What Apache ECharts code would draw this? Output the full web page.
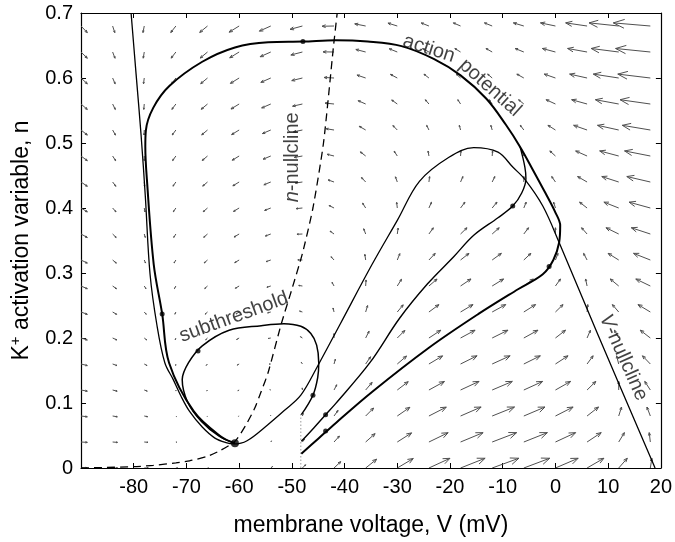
<!DOCTYPE html>
<html><head><meta charset="utf-8">
<script src="https://cdn.jsdelivr.net/npm/echarts@6/dist/echarts.min.js"></script>
<style>html,body{margin:0;padding:0;background:#fff}#c{width:675px;height:542px}</style>
</head><body><div id="c"></div>
<script>
// ---------- data ----------
const quiverV = [-90,-84,-78,-72,-66,-60,-54,-48,-42,-36,-30,-24,-18,-12,-6,0,6,12,18];
const quiverN = [0.68,0.64,0.60,0.56,0.52,0.48,0.44,0.40,0.36,0.32,0.28,0.24,0.20,0.16,0.12,0.08,0.04,0.00];
// arrow components in data units (mV), one row per quiverN
const quiverU = [
 [1.2,0.41,-0.24,-0.97,-1.48,-1.90,-2.16,-2.35,-2.27,-2.07,-1.77,-1.46,-1.37,-1.47,-1.98,-2.84,-4.06,-5.62,-7.02],
 [1.2,0.45,-0.19,-0.90,-1.38,-1.78,-2.02,-2.19,-2.08,-1.86,-1.53,-1.20,-1.08,-1.17,-1.65,-2.48,-3.69,-5.22,-6.59],
 [1.2,0.48,-0.14,-0.83,-1.29,-1.66,-1.88,-2.02,-1.89,-1.65,-1.30,-0.94,-0.80,-0.86,-1.32,-2.13,-3.31,-4.82,-6.17],
 [1.2,0.51,-0.09,-0.76,-1.19,-1.55,-1.73,-1.86,-1.70,-1.43,-1.06,-0.68,-0.52,-0.55,-0.99,-1.77,-2.93,-4.42,-5.74],
 [1.2,0.54,-0.05,-0.69,-1.10,-1.43,-1.59,-1.69,-1.51,-1.22,-0.83,-0.42,-0.23,-0.25,-0.66,-1.42,-2.55,-4.02,-5.32],
 [1.2,0.57,0.00,-0.62,-1.00,-1.31,-1.45,-1.53,-1.32,-1.01,-0.59,-0.16,0.07,0.08,-0.33,-1.06,-2.17,-3.61,-4.89],
 [1.2,0.61,0.06,-0.55,-0.91,-1.19,-1.31,-1.36,-1.13,-0.80,-0.35,0.13,0.45,0.50,0.00,-0.71,-1.80,-3.21,-4.46],
 [1.2,0.64,0.13,-0.48,-0.81,-1.07,-1.17,-1.20,-0.94,-0.58,-0.12,0.48,0.83,0.91,0.45,-0.35,-1.42,-2.81,-4.04],
 [1.2,0.67,0.19,-0.41,-0.72,-0.96,-1.03,-1.03,-0.76,-0.37,0.16,0.83,1.22,1.33,0.89,0.00,-1.04,-2.41,-3.61],
 [1.2,0.70,0.25,-0.34,-0.63,-0.84,-0.89,-0.87,-0.57,-0.16,0.48,1.19,1.60,1.74,1.34,0.48,-0.66,-2.01,-3.19],
 [1.2,0.73,0.32,-0.27,-0.53,-0.72,-0.74,-0.70,-0.38,0.07,0.80,1.54,1.98,2.16,1.79,0.96,-0.28,-1.61,-2.76],
 [1.2,0.76,0.38,-0.19,-0.44,-0.60,-0.60,-0.54,-0.19,0.36,1.12,1.89,2.36,2.57,2.23,1.44,0.13,-1.20,-2.34],
 [1.2,0.80,0.45,-0.12,-0.34,-0.48,-0.46,-0.37,0.00,0.65,1.43,2.24,2.75,2.99,2.68,1.91,0.64,-0.80,-1.91],
 [1.2,0.83,0.51,-0.05,-0.25,-0.37,-0.32,-0.21,0.25,0.93,1.75,2.59,3.13,3.40,3.13,2.39,1.15,-0.40,-1.49],
 [1.2,0.86,0.57,0.02,-0.15,-0.25,-0.18,-0.04,0.51,1.22,2.07,2.94,3.51,3.82,3.57,2.87,1.66,0.00,-1.06],
 [1.2,0.89,0.64,0.12,-0.06,-0.13,-0.04,0.17,0.76,1.51,2.39,3.29,3.90,4.23,4.02,3.35,2.17,0.54,-0.64],
 [1.2,0.92,0.70,0.21,0.05,-0.01,0.14,0.39,1.02,1.79,2.71,3.64,4.28,4.64,4.47,3.83,2.68,1.08,-0.21],
 [1.2,0.96,0.76,0.31,0.18,0.14,0.33,0.61,1.27,2.08,3.03,3.99,4.66,5.06,4.91,4.31,3.19,1.63,0.29]
];
// arrow components in data units (n), one row per quiverN
const quiverW = [
 [-0.0102,-0.0102,-0.0101,-0.0100,-0.0099,-0.0095,-0.0079,-0.0052,-0.0004,0.0033,0.0044,0.0047,0.0048,0.0048,0.0048,0.0048,0.0048,0.0048,0.0048],
 [-0.0096,-0.0096,-0.0095,-0.0094,-0.0093,-0.0089,-0.0073,-0.0046,0.0002,0.0039,0.0050,0.0053,0.0054,0.0054,0.0054,0.0054,0.0054,0.0054,0.0054],
 [-0.0090,-0.0090,-0.0089,-0.0088,-0.0087,-0.0083,-0.0067,-0.0040,0.0008,0.0045,0.0056,0.0059,0.0060,0.0060,0.0060,0.0060,0.0060,0.0060,0.0060],
 [-0.0084,-0.0084,-0.0083,-0.0082,-0.0081,-0.0077,-0.0061,-0.0034,0.0014,0.0051,0.0062,0.0065,0.0066,0.0066,0.0066,0.0066,0.0066,0.0066,0.0066],
 [-0.0078,-0.0078,-0.0077,-0.0076,-0.0075,-0.0071,-0.0055,-0.0028,0.0020,0.0057,0.0068,0.0071,0.0072,0.0072,0.0072,0.0072,0.0072,0.0072,0.0072],
 [-0.0072,-0.0072,-0.0071,-0.0070,-0.0069,-0.0065,-0.0049,-0.0022,0.0026,0.0063,0.0074,0.0077,0.0078,0.0078,0.0078,0.0078,0.0078,0.0078,0.0078],
 [-0.0066,-0.0066,-0.0065,-0.0064,-0.0063,-0.0059,-0.0043,-0.0016,0.0032,0.0069,0.0080,0.0083,0.0084,0.0084,0.0084,0.0084,0.0084,0.0084,0.0084],
 [-0.0060,-0.0060,-0.0059,-0.0058,-0.0057,-0.0053,-0.0037,-0.0010,0.0038,0.0075,0.0086,0.0089,0.0090,0.0090,0.0090,0.0090,0.0090,0.0090,0.0090],
 [-0.0054,-0.0054,-0.0053,-0.0052,-0.0051,-0.0047,-0.0031,-0.0004,0.0044,0.0081,0.0092,0.0095,0.0096,0.0096,0.0096,0.0096,0.0096,0.0096,0.0096],
 [-0.0048,-0.0048,-0.0047,-0.0046,-0.0045,-0.0041,-0.0025,0.0002,0.0050,0.0087,0.0098,0.0101,0.0102,0.0102,0.0102,0.0102,0.0102,0.0102,0.0102],
 [-0.0042,-0.0042,-0.0041,-0.0040,-0.0039,-0.0035,-0.0019,0.0008,0.0056,0.0093,0.0104,0.0107,0.0108,0.0108,0.0108,0.0108,0.0108,0.0108,0.0108],
 [-0.0036,-0.0036,-0.0035,-0.0034,-0.0033,-0.0029,-0.0013,0.0014,0.0062,0.0099,0.0110,0.0113,0.0114,0.0114,0.0114,0.0114,0.0114,0.0114,0.0114],
 [-0.0030,-0.0030,-0.0029,-0.0028,-0.0027,-0.0023,-0.0007,0.0020,0.0068,0.0105,0.0116,0.0119,0.0120,0.0120,0.0120,0.0120,0.0120,0.0120,0.0120],
 [-0.0024,-0.0024,-0.0023,-0.0022,-0.0021,-0.0017,-0.0001,0.0026,0.0074,0.0111,0.0122,0.0125,0.0126,0.0126,0.0126,0.0126,0.0126,0.0126,0.0126],
 [-0.0018,-0.0018,-0.0017,-0.0016,-0.0015,-0.0011,0.0005,0.0032,0.0080,0.0117,0.0128,0.0131,0.0132,0.0132,0.0132,0.0132,0.0132,0.0132,0.0132],
 [-0.0012,-0.0012,-0.0011,-0.0010,-0.0009,-0.0005,0.0011,0.0038,0.0086,0.0123,0.0134,0.0137,0.0138,0.0138,0.0138,0.0138,0.0138,0.0138,0.0138],
 [-0.0006,-0.0006,-0.0005,-0.0004,-0.0003,0.0001,0.0017,0.0044,0.0092,0.0129,0.0140,0.0143,0.0144,0.0144,0.0144,0.0144,0.0144,0.0144,0.0144],
 [0.0000,0.0000,0.0001,0.0002,0.0003,0.0007,0.0023,0.0050,0.0098,0.0135,0.0146,0.0149,0.0150,0.0150,0.0150,0.0150,0.0150,0.0150,0.0150]
];
const vNullcline = [[-80.5,0.70],[-79.55,0.606],[-78.6,0.512],[-77.8,0.418],[-76.9,0.298],[-75.6,0.22],[-74.1,0.162],[-72.5,0.136],[-71.0,0.11],[-69.4,0.087],[-67,0.063],[-64.6,0.046],[-62.5,0.039],[-61.0,0.037],[-58.5,0.042],[-54.5,0.067],[-51.5,0.088],[-48.3,0.112],[-45.1,0.157],[-40.8,0.222],[-34.8,0.313],[-30,0.381],[-25.8,0.441],[-20.2,0.478],[-15.5,0.493],[-10.9,0.486],[-8.1,0.463],[-5.8,0.444],[-2.4,0.403],[0.7,0.347],[7.8,0.21],[18.9,0]];
const nNullcline = [[-90,0],[-86.6,0.0005],[-80,0.002],[-76.3,0.004],[-72,0.008],[-69.4,0.011],[-66,0.018],[-63.8,0.026],[-60.8,0.041],[-58.8,0.065],[-57.1,0.091],[-55.8,0.118],[-54.5,0.147],[-52,0.222],[-50,0.275],[-48,0.33],[-46,0.40],[-44,0.50],[-42.1,0.649],[-41.4,0.70]];
const trajActionPotential = [[-48.2,0.022],[-45,0.045],[-41.7,0.069],[-34.8,0.117],[-24.0,0.185],[-14.6,0.237],[-7.1,0.275],[-2.4,0.298],[-0.4,0.320],[0.7,0.347],[0.9,0.373],[0.0,0.393],[-1.9,0.423],[-4.3,0.459],[-6.7,0.494],[-9.4,0.528],[-13.1,0.568],[-18.0,0.604],[-23.0,0.629],[-29.2,0.649],[-35.6,0.656],[-41.7,0.658],[-47.9,0.656],[-54.5,0.655],[-60.8,0.647],[-67.0,0.625],[-73.2,0.588],[-76.3,0.554],[-77.7,0.519],[-77.8,0.494],[-77.5,0.444],[-76.2,0.313],[-74.6,0.237],[-73.3,0.162],[-68.6,0.087],[-63.4,0.048],[-60.8,0.038]];
const trajMiddle = [[-48.2,0.041],[-45.8,0.062],[-43.6,0.082],[-41.7,0.099],[-35.2,0.162],[-29.6,0.230],[-24.3,0.283],[-19.3,0.325],[-15.5,0.358],[-10.9,0.385],[-8.1,0.403],[-6.4,0.423],[-5.6,0.445],[-5.8,0.463],[-6.7,0.494]];
const trajSubthreshold = [[-48.2,0.082],[-46.0,0.112],[-45.1,0.139],[-44.9,0.162],[-45.3,0.189],[-46.4,0.207],[-48.3,0.218],[-51.5,0.222],[-55.8,0.219],[-61.9,0.212],[-67.0,0.188],[-69.6,0.162],[-70.8,0.136],[-69.8,0.102],[-67.2,0.072],[-63.8,0.049],[-60.8,0.038]];
const thresholdLine = [[-48.3,0],[-48.3,0.085]];
const restPoint = [[-60.8,0.038]];
const directionDots = [[-47.9,0.656],[-74.6,0.237],[-67.8,0.180],[-46.0,0.112],[-43.6,0.082],[-43.6,0.057],[-8.1,0.403],[-1.2,0.31]];
const annotations = [
  {pos:[-61.0,0.232], text:'subthreshold', rot:20},
  {pos:[-24.0,0.645], text:'action', rot:-18},
  {pos:[-12.4,0.585], text:'potential', rot:-42},
  {pos:[-49.8,0.478], text:'{i|n}-nullcline', rot:90},
  {pos:[12.9,0.170], text:'{i|V}-nullcline', rot:-66}
];
const xRange = [-90, 20], xStep = 10;
const yRange = [0, 0.7], yStep = 0.1;

// ---------- chart ----------
const FONT = 'Liberation Sans, Arial, Helvetica, sans-serif';
const quiverData = [];
quiverN.forEach((n, r) => quiverV.forEach((v, c) => quiverData.push([v, n, quiverU[r][c], quiverW[r][c]])));

function arrowItem(params, api) {
  const v = api.value(0), n = api.value(1), u = api.value(2), w = api.value(3);
  const p0 = api.coord([v, n]), p1 = api.coord([v + u, n + w]);
  const dx = p1[0] - p0[0], dy = p1[1] - p0[1];
  const L = Math.hypot(dx, dy);
  if (L < 0.6) return null;
  const ux = dx / L, uy = dy / L;
  const h = L * 0.32, a = 0.38;
  const ca = Math.cos(a), sa = Math.sin(a);
  const l1 = [p1[0] - h * (ux * ca - uy * sa), p1[1] - h * (uy * ca + ux * sa)];
  const l2 = [p1[0] - h * (ux * ca + uy * sa), p1[1] - h * (uy * ca - ux * sa)];
  const st = {stroke: '#505050', lineWidth: 1, fill: null};
  return {type: 'group', children: [
    {type: 'polyline', shape: {points: [p0, p1]}, style: st},
    {type: 'polyline', shape: {points: [l1, p1, l2]}, style: st}
  ]};
}

const lineBase = {type: 'line', showSymbol: false, symbol: 'none', smooth: 0.35, z: 3, silent: true};
const axisCommon = {
  type: 'value', axisLine: {show: true, onZero: false, lineStyle: {color: '#000', width: 1.2}},
  axisTick: {show: true, inside: true, length: 5, lineStyle: {color: '#000', width: 1}},
  splitLine: {show: false}
};

const chart = echarts.init(document.getElementById('c'), null, {renderer: 'canvas'});
chart.setOption({
  animation: false,
  backgroundColor: '#fff',
  grid: {left: 77, right: 10, top: 13, bottom: 64.5},
  xAxis: [
    Object.assign({}, axisCommon, {
      min: xRange[0], max: xRange[1], interval: xStep, position: 'bottom',
      axisLabel: {color: '#000', fontSize: 20, fontFamily: FONT, margin: 9, formatter: v => v === xRange[0] ? '' : String(v)},
      name: 'membrane voltage, V (mV)', nameLocation: 'middle', nameGap: 46,
      nameTextStyle: {color: '#000', fontSize: 23, fontFamily: FONT}
    }),
    Object.assign({}, axisCommon, {min: xRange[0], max: xRange[1], interval: xStep, position: 'top', axisLabel: {show: false}})
  ],
  yAxis: [
    Object.assign({}, axisCommon, {
      min: yRange[0], max: yRange[1], interval: yStep, position: 'left',
      axisLabel: {color: '#000', fontSize: 20, fontFamily: FONT, margin: 8, formatter: v => v === 0 ? '0' : v.toFixed(1)},
      name: '{t|K}{s|+}{t| activation variable, n}', nameLocation: 'middle', nameGap: 46,
      nameTextStyle: {color: '#000', fontFamily: FONT, rich: {
        t: {fontSize: 23, fontFamily: FONT, color: '#000'},
        s: {fontSize: 15, fontFamily: FONT, color: '#000', padding: [0, 0, 12, 0]}
      }}
    }),
    Object.assign({}, axisCommon, {min: yRange[0], max: yRange[1], interval: yStep, position: 'right', axisLabel: {show: false}})
  ],
  series: [
    {type: 'custom', renderItem: arrowItem, data: quiverData, encode: {x: 0, y: 1}, z: 1, silent: true, clip: true},
    Object.assign({}, lineBase, {data: thresholdLine, smooth: false, lineStyle: {color: '#9a9a9a', width: 1, type: [1.5, 2]}}),
    Object.assign({}, lineBase, {data: nNullcline, smooth: 0.2, lineStyle: {color: '#000', width: 1.3, type: [8, 5]}}),
    Object.assign({}, lineBase, {data: vNullcline, lineStyle: {color: '#000', width: 1.3}}),
    Object.assign({}, lineBase, {data: trajSubthreshold, lineStyle: {color: '#000', width: 1.5}}),
    Object.assign({}, lineBase, {data: trajMiddle, lineStyle: {color: '#000', width: 1.4}}),
    Object.assign({}, lineBase, {data: trajActionPotential, lineStyle: {color: '#000', width: 2}}),
    {type: 'scatter', data: directionDots, symbolSize: 5, itemStyle: {color: '#000'}, z: 5, silent: true},
    {type: 'scatter', data: restPoint, symbolSize: 8, itemStyle: {color: '#000'}, z: 5, silent: true},
    {type: 'scatter', symbolSize: 0, z: 6, silent: true,
     data: annotations.map(a => ({value: a.pos, label: {formatter: a.text, rotate: a.rot}})),
     label: {show: true, position: 'inside', color: '#111', fontSize: 20, fontFamily: FONT,
             rich: {i: {fontStyle: 'italic', fontSize: 20, fontFamily: FONT, color: '#111'}}}}
  ]
});
</script></body></html>
